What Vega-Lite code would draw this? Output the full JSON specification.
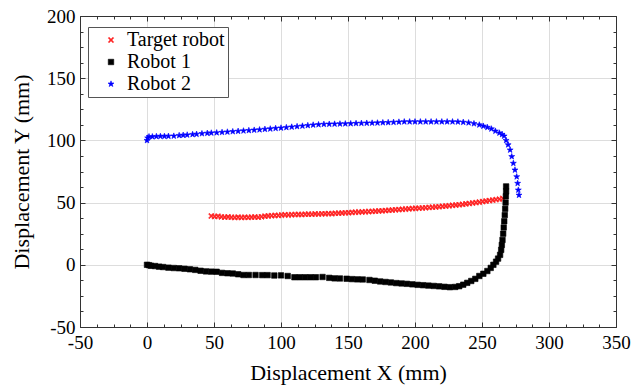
{
"$schema": "https://vega.github.io/schema/vega-lite/v6.json",
"width": 536, "height": 311,
"autosize": {"type": "none"},
"padding": {"left": 80, "top": 16, "right": 16, "bottom": 61},
"background": "white",
"config": {
  "font": "Liberation Serif, DejaVu Serif, serif",
  "view": {"stroke": "#333333", "strokeWidth": 1},
  "axis": {"labelFont": "Liberation Serif, DejaVu Serif, serif", "labelFontSize": 19, "labelColor": "black", "titleFont": "Liberation Serif, DejaVu Serif, serif", "titleFontSize": 22, "titleFontWeight": "normal", "titleColor": "black", "domainColor": "#333333", "tickColor": "#333333", "gridColor": "#dddddd", "gridWidth": 1},
  "legend": {"labelFont": "Liberation Serif, DejaVu Serif, serif"}
},
"data": {"values": [
{"s":"Target robot","x":48,"y":39.2},{"s":"Target robot","x":50.5,"y":38.8},{"s":"Target robot","x":53,"y":39},{"s":"Target robot","x":55.5,"y":38.5},{"s":"Target robot","x":58,"y":38.3},{"s":"Target robot","x":60.5,"y":38.5},{"s":"Target robot","x":63,"y":38.2},{"s":"Target robot","x":65.5,"y":38},{"s":"Target robot","x":68,"y":38.3},{"s":"Target robot","x":70.5,"y":38},{"s":"Target robot","x":73,"y":38.2},{"s":"Target robot","x":75.5,"y":38.1},{"s":"Target robot","x":78,"y":38.3},{"s":"Target robot","x":80.5,"y":38.4},{"s":"Target robot","x":83,"y":38.2},{"s":"Target robot","x":85.5,"y":38.6},{"s":"Target robot","x":88,"y":39.1},{"s":"Target robot","x":90.5,"y":39.3},{"s":"Target robot","x":93,"y":39.5},{"s":"Target robot","x":95.5,"y":39.7},{"s":"Target robot","x":98,"y":39.7},{"s":"Target robot","x":100.5,"y":40},{"s":"Target robot","x":103,"y":40.2},{"s":"Target robot","x":105.5,"y":40.1},{"s":"Target robot","x":108,"y":40.3},{"s":"Target robot","x":110.5,"y":40.4},{"s":"Target robot","x":113,"y":40.5},{"s":"Target robot","x":115.5,"y":40.4},{"s":"Target robot","x":118,"y":40.6},{"s":"Target robot","x":120.5,"y":40.7},{"s":"Target robot","x":123,"y":40.6},{"s":"Target robot","x":125.5,"y":40.9},{"s":"Target robot","x":128,"y":40.8},{"s":"Target robot","x":130.5,"y":41},{"s":"Target robot","x":133,"y":41},{"s":"Target robot","x":135.5,"y":41.2},{"s":"Target robot","x":138,"y":41.1},{"s":"Target robot","x":140.5,"y":41.4},{"s":"Target robot","x":143,"y":41.5},{"s":"Target robot","x":145.5,"y":41.6},{"s":"Target robot","x":148,"y":41.8},{"s":"Target robot","x":150.5,"y":41.9},{"s":"Target robot","x":153,"y":42.1},{"s":"Target robot","x":155.5,"y":42.3},{"s":"Target robot","x":158,"y":42.4},{"s":"Target robot","x":160.5,"y":42.5},{"s":"Target robot","x":163,"y":42.6},{"s":"Target robot","x":165.5,"y":42.8},{"s":"Target robot","x":168,"y":42.9},{"s":"Target robot","x":170.5,"y":43.1},{"s":"Target robot","x":173,"y":43.3},{"s":"Target robot","x":175.5,"y":43.4},{"s":"Target robot","x":178,"y":43.6},{"s":"Target robot","x":180.5,"y":43.8},{"s":"Target robot","x":183,"y":44},{"s":"Target robot","x":185.5,"y":44.2},{"s":"Target robot","x":188,"y":44.4},{"s":"Target robot","x":190.5,"y":44.6},{"s":"Target robot","x":193,"y":44.8},{"s":"Target robot","x":195.5,"y":45},{"s":"Target robot","x":198,"y":45.2},{"s":"Target robot","x":200.5,"y":45.4},{"s":"Target robot","x":203,"y":45.5},{"s":"Target robot","x":205.5,"y":45.7},{"s":"Target robot","x":208,"y":45.9},{"s":"Target robot","x":210.5,"y":46.1},{"s":"Target robot","x":213,"y":46.3},{"s":"Target robot","x":215.5,"y":46.5},{"s":"Target robot","x":218,"y":46.7},{"s":"Target robot","x":220.5,"y":47},{"s":"Target robot","x":223,"y":47.2},{"s":"Target robot","x":225.5,"y":47.5},{"s":"Target robot","x":228,"y":47.8},{"s":"Target robot","x":230.5,"y":48},{"s":"Target robot","x":233,"y":48.3},{"s":"Target robot","x":235.5,"y":48.6},{"s":"Target robot","x":238,"y":49},{"s":"Target robot","x":240.5,"y":49.3},{"s":"Target robot","x":243,"y":49.7},{"s":"Target robot","x":245.5,"y":50},{"s":"Target robot","x":248,"y":50.4},{"s":"Target robot","x":250.5,"y":50.8},{"s":"Target robot","x":253,"y":51.2},{"s":"Target robot","x":255.5,"y":51.6},{"s":"Target robot","x":258,"y":52},{"s":"Target robot","x":260.5,"y":52.4},{"s":"Target robot","x":263,"y":52.8},{"s":"Target robot","x":265.5,"y":53.3},
{"s":"Robot 1","x":0,"y":0},{"s":"Robot 1","x":1.5,"y":-0.3},{"s":"Robot 1","x":3,"y":-0.8},{"s":"Robot 1","x":6,"y":-1},{"s":"Robot 1","x":9,"y":-1.5},{"s":"Robot 1","x":12,"y":-1.8},{"s":"Robot 1","x":16,"y":-2.3},{"s":"Robot 1","x":20,"y":-2.6},{"s":"Robot 1","x":24,"y":-2.8},{"s":"Robot 1","x":28,"y":-3.2},{"s":"Robot 1","x":32,"y":-3.6},{"s":"Robot 1","x":36,"y":-4.1},{"s":"Robot 1","x":40,"y":-4.8},{"s":"Robot 1","x":44,"y":-5.3},{"s":"Robot 1","x":48,"y":-5.5},{"s":"Robot 1","x":52,"y":-5.6},{"s":"Robot 1","x":56,"y":-6.5},{"s":"Robot 1","x":60,"y":-6.8},{"s":"Robot 1","x":64,"y":-7},{"s":"Robot 1","x":68,"y":-7.6},{"s":"Robot 1","x":72,"y":-8.2},{"s":"Robot 1","x":76,"y":-8.2},{"s":"Robot 1","x":81,"y":-8.2},{"s":"Robot 1","x":86,"y":-8.3},{"s":"Robot 1","x":90,"y":-8.3},{"s":"Robot 1","x":95,"y":-8.6},{"s":"Robot 1","x":100,"y":-8.5},{"s":"Robot 1","x":105,"y":-9},{"s":"Robot 1","x":110,"y":-10},{"s":"Robot 1","x":114,"y":-10},{"s":"Robot 1","x":118,"y":-10},{"s":"Robot 1","x":122,"y":-10},{"s":"Robot 1","x":126,"y":-10},{"s":"Robot 1","x":131,"y":-9.8},{"s":"Robot 1","x":136,"y":-10.5},{"s":"Robot 1","x":140,"y":-10.9},{"s":"Robot 1","x":144,"y":-11},{"s":"Robot 1","x":149,"y":-11.2},{"s":"Robot 1","x":153,"y":-11.5},{"s":"Robot 1","x":157,"y":-11.7},{"s":"Robot 1","x":161,"y":-11.8},{"s":"Robot 1","x":166,"y":-12.2},{"s":"Robot 1","x":170,"y":-12.8},{"s":"Robot 1","x":174,"y":-13.4},{"s":"Robot 1","x":178,"y":-13.8},{"s":"Robot 1","x":182,"y":-14.2},{"s":"Robot 1","x":186,"y":-14.7},{"s":"Robot 1","x":190,"y":-15},{"s":"Robot 1","x":194,"y":-15.3},{"s":"Robot 1","x":198,"y":-15.7},{"s":"Robot 1","x":202,"y":-16.1},{"s":"Robot 1","x":206,"y":-16.4},{"s":"Robot 1","x":210,"y":-16.7},{"s":"Robot 1","x":214,"y":-17},{"s":"Robot 1","x":218,"y":-17.3},{"s":"Robot 1","x":222,"y":-17.7},{"s":"Robot 1","x":226,"y":-18},{"s":"Robot 1","x":230,"y":-17.8},{"s":"Robot 1","x":233,"y":-17.2},{"s":"Robot 1","x":236,"y":-16},{"s":"Robot 1","x":239,"y":-14.5},{"s":"Robot 1","x":242,"y":-13},{"s":"Robot 1","x":245,"y":-11.3},{"s":"Robot 1","x":248,"y":-9},{"s":"Robot 1","x":251,"y":-7.2},{"s":"Robot 1","x":254,"y":-5},{"s":"Robot 1","x":256.5,"y":-2.5},{"s":"Robot 1","x":258.5,"y":0},{"s":"Robot 1","x":260.5,"y":2.5},{"s":"Robot 1","x":262,"y":5},{"s":"Robot 1","x":263.5,"y":8},{"s":"Robot 1","x":264.3,"y":12},{"s":"Robot 1","x":264.8,"y":16},{"s":"Robot 1","x":265.3,"y":20},{"s":"Robot 1","x":265.8,"y":25},{"s":"Robot 1","x":266.2,"y":30},{"s":"Robot 1","x":266.6,"y":35},{"s":"Robot 1","x":267,"y":40},{"s":"Robot 1","x":267.3,"y":45},{"s":"Robot 1","x":267.6,"y":50},{"s":"Robot 1","x":267.8,"y":55},{"s":"Robot 1","x":268,"y":59},{"s":"Robot 1","x":268,"y":63},
{"s":"Robot 2","x":0,"y":100},{"s":"Robot 2","x":0.5,"y":102},{"s":"Robot 2","x":1.5,"y":103},{"s":"Robot 2","x":4,"y":103},{"s":"Robot 2","x":7,"y":103.2},{"s":"Robot 2","x":10,"y":103.3},{"s":"Robot 2","x":13,"y":103.3},{"s":"Robot 2","x":16,"y":103.4},{"s":"Robot 2","x":20,"y":103.5},{"s":"Robot 2","x":24,"y":104},{"s":"Robot 2","x":27,"y":104.2},{"s":"Robot 2","x":30,"y":104.4},{"s":"Robot 2","x":34,"y":104.8},{"s":"Robot 2","x":37,"y":105},{"s":"Robot 2","x":41,"y":105.5},{"s":"Robot 2","x":45,"y":105.8},{"s":"Robot 2","x":48,"y":106},{"s":"Robot 2","x":52,"y":106.2},{"s":"Robot 2","x":56,"y":106.5},{"s":"Robot 2","x":60,"y":106.8},{"s":"Robot 2","x":64,"y":107.1},{"s":"Robot 2","x":68,"y":107.4},{"s":"Robot 2","x":72,"y":107.7},{"s":"Robot 2","x":76,"y":108},{"s":"Robot 2","x":80,"y":108.3},{"s":"Robot 2","x":84,"y":108.6},{"s":"Robot 2","x":88,"y":109},{"s":"Robot 2","x":92,"y":109.3},{"s":"Robot 2","x":96,"y":109.7},{"s":"Robot 2","x":100,"y":110},{"s":"Robot 2","x":104,"y":110.4},{"s":"Robot 2","x":108,"y":110.8},{"s":"Robot 2","x":112,"y":111.2},{"s":"Robot 2","x":116,"y":111.6},{"s":"Robot 2","x":120,"y":112},{"s":"Robot 2","x":124,"y":112.4},{"s":"Robot 2","x":128,"y":112.7},{"s":"Robot 2","x":132,"y":113},{"s":"Robot 2","x":136,"y":113.1},{"s":"Robot 2","x":140,"y":113.2},{"s":"Robot 2","x":144,"y":113.3},{"s":"Robot 2","x":148,"y":113.4},{"s":"Robot 2","x":152,"y":113.5},{"s":"Robot 2","x":156,"y":113.7},{"s":"Robot 2","x":160,"y":113.8},{"s":"Robot 2","x":164,"y":113.9},{"s":"Robot 2","x":168,"y":114},{"s":"Robot 2","x":172,"y":114.1},{"s":"Robot 2","x":176,"y":114.3},{"s":"Robot 2","x":180,"y":114.4},{"s":"Robot 2","x":184,"y":114.6},{"s":"Robot 2","x":188,"y":114.8},{"s":"Robot 2","x":192,"y":115},{"s":"Robot 2","x":196,"y":115},{"s":"Robot 2","x":200,"y":115},{"s":"Robot 2","x":204,"y":115},{"s":"Robot 2","x":208,"y":115},{"s":"Robot 2","x":212,"y":115},{"s":"Robot 2","x":216,"y":115},{"s":"Robot 2","x":220,"y":115},{"s":"Robot 2","x":224,"y":115},{"s":"Robot 2","x":228,"y":115},{"s":"Robot 2","x":232,"y":114.9},{"s":"Robot 2","x":236,"y":114.6},{"s":"Robot 2","x":240,"y":114.2},{"s":"Robot 2","x":244,"y":113.5},{"s":"Robot 2","x":248,"y":112.5},{"s":"Robot 2","x":251,"y":111.5},{"s":"Robot 2","x":254,"y":110.5},{"s":"Robot 2","x":257,"y":109.3},{"s":"Robot 2","x":260,"y":107.5},{"s":"Robot 2","x":263,"y":106},{"s":"Robot 2","x":265,"y":104.8},{"s":"Robot 2","x":266.5,"y":103.5},{"s":"Robot 2","x":268,"y":100},{"s":"Robot 2","x":269.5,"y":96.5},{"s":"Robot 2","x":271,"y":92.3},{"s":"Robot 2","x":272.2,"y":87},{"s":"Robot 2","x":273.4,"y":81.6},{"s":"Robot 2","x":274.6,"y":76.2},{"s":"Robot 2","x":275.9,"y":70.8},{"s":"Robot 2","x":276.6,"y":65.5},{"s":"Robot 2","x":277.1,"y":60.1},{"s":"Robot 2","x":277.6,"y":56}
]},
"layer": [
  {
    "mark": {"type": "point", "opacity": 0},
    "encoding": {
      "x": {"field": "x", "type": "quantitative", "scale": {"domain": [-50, 350], "nice": false, "zero": false},
        "axis": {"orient": "top", "title": null, "labels": false, "grid": false,
          "values": [-50,-37.5,-25,-12.5,0,12.5,25,37.5,50,62.5,75,87.5,100,112.5,125,137.5,150,162.5,175,187.5,200,212.5,225,237.5,250,262.5,275,287.5,300,312.5,325,337.5,350],
          "tickSize": {"condition": {"test": "datum.value % 50 === 0", "value": -5}, "value": -3}}},
      "y": {"field": "y", "type": "quantitative", "scale": {"domain": [-50, 200], "nice": false, "zero": false},
        "axis": {"orient": "right", "title": null, "labels": false, "grid": false,
          "values": [-50,-37.5,-25,-12.5,0,12.5,25,37.5,50,62.5,75,87.5,100,112.5,125,137.5,150,162.5,175,187.5,200],
          "tickSize": {"condition": {"test": "datum.value % 50 === 0", "value": -5}, "value": -3}}}
    }
  },
  {
    "mark": {"type": "point", "size": 30, "strokeWidth": 0.6, "opacity": 1},
    "encoding": {
      "x": {"field": "x", "type": "quantitative", "scale": {"domain": [-50, 350], "nice": false, "zero": false},
        "axis": {"orient": "bottom", "title": "Displacement X (mm)", "grid": true,
          "values": [-50,-37.5,-25,-12.5,0,12.5,25,37.5,50,62.5,75,87.5,100,112.5,125,137.5,150,162.5,175,187.5,200,212.5,225,237.5,250,262.5,275,287.5,300,312.5,325,337.5,350],
          "gridOpacity": {"condition": {"test": "datum.value % 50 === 0", "value": 1}, "value": 0},
          "tickSize": {"condition": {"test": "datum.value % 50 === 0", "value": -5}, "value": -3},
          "labelExpr": "datum.value % 50 === 0 ? toString(datum.value) : ''",
          "labelOverlap": false, "labelFlush": false, "labelPadding": 11, "titlePadding": 8}},
      "y": {"field": "y", "type": "quantitative", "scale": {"domain": [-50, 200], "nice": false, "zero": false},
        "axis": {"orient": "left", "title": "Displacement Y (mm)", "grid": true,
          "values": [-50,-37.5,-25,-12.5,0,12.5,25,37.5,50,62.5,75,87.5,100,112.5,125,137.5,150,162.5,175,187.5,200],
          "gridOpacity": {"condition": {"test": "datum.value % 50 === 0", "value": 1}, "value": 0},
          "tickSize": {"condition": {"test": "datum.value % 50 === 0", "value": -5}, "value": -3},
          "labelExpr": "datum.value % 50 === 0 ? toString(datum.value) : ''",
          "labelOverlap": false, "labelFlush": false, "labelPadding": 10, "titlePadding": 13}},
      "fill": {"field": "s", "type": "nominal",
        "scale": {"domain": ["Target robot", "Robot 1", "Robot 2"], "range": ["#ff2020", "#000000", "#0000ff"]},
        "legend": {"title": null, "orient": "none", "legendX": 8, "legendY": 11, "strokeColor": "#555555", "fillColor": "white", "padding": 3, "labelFont": "Liberation Serif, DejaVu Serif, serif", "labelFontSize": 20, "labelColor": "black", "symbolOffset": 10, "labelOffset": 6, "rowPadding": 2, "symbolSize": 30, "symbolStrokeWidth": 0.6}},
      "stroke": {"field": "s", "type": "nominal",
        "scale": {"domain": ["Target robot", "Robot 1", "Robot 2"], "range": ["#ff2020", "#000000", "#0000ff"]}},
      "shape": {"field": "s", "type": "nominal",
        "scale": {"domain": ["Target robot", "Robot 1", "Robot 2"], "range": ["M-1,-0.7L-0.7,-1L0,-0.3L0.7,-1L1,-0.7L0.3,0L1,0.7L0.7,1L0,0.3L-0.7,1L-1,0.7L-0.3,0Z", "square", "M0,-1.15L0.27,-0.37L1.09,-0.36L0.44,0.14L0.68,0.93L0,0.46L-0.68,0.93L-0.44,0.14L-1.09,-0.36L-0.27,-0.37Z"]}}
    }
  }
]
}
